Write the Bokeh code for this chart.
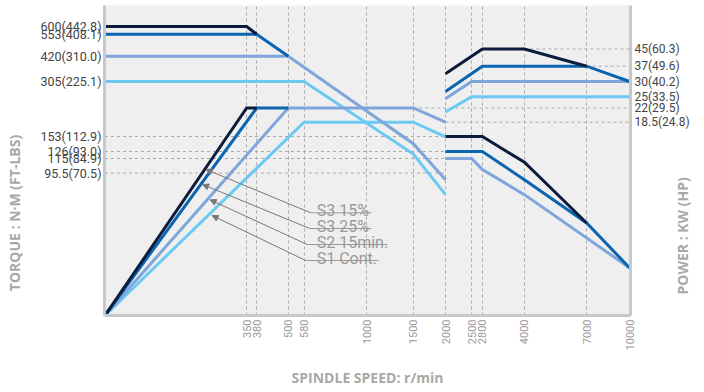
import numpy as np
from math import pi
from bokeh.plotting import figure
from bokeh.models import Range1d, LinearAxis, FixedTicker, Grid, Arrow, NormalHead
from bokeh.core.properties import value
from bokeh.embed import file_html
from bokeh.resources import INLINE

# ---------------- data ----------------
SERIES = ["S3 15%", "S3 25%", "S2 15min.", "S1 Cont."]
COLORS = ["#0c1c3c", "#0a64b0", "#7fa5da", "#6ccaf2"]

# low gear, 0-2000 r/min (torque N·m, power kW)
LOW_TQ_RPM = [[0, 350, 380], [0, 380, 500], [0, 500, 1500, 2000], [0, 580, 1500, 2000]]
LOW_TQ = [[600, 600, 553], [553, 553, 420], [420, 420, 140, 91], [305, 305, 122, 81]]
LOW_PW_RPM = [[0, 350, 380], [0, 380, 500], [0, 500, 1500, 2000], [0, 580, 1500, 2000]]
LOW_PW = [[0, 22, 22], [0, 22, 22], [0, 22, 22, 18.5], [0, 18.5, 18.5, 17.1]]

# high gear, 2000-10000 r/min
HIGH_TQ_RPM = [[2000, 2800, 4000, 7000], [2000, 2800, 4000, 7000, 10000],
               [2000, 2500, 2800, 4000, 10000]]
HIGH_TQ = [[153, 153, 110, 62], [126, 126, 91, 62, 32], [115, 115, 100, 81, 32]]
HIGH_PW_RPM = [[2000, 2800, 4000, 7000], [2000, 2800, 7000, 10000],
               [2000, 2500, 10000], [2000, 2500, 10000]]
HIGH_PW = [[33.5, 45, 45, 37], [26.7, 37, 37, 30], [24.5, 30, 30], [21, 25, 25]]

RPM_TICKS = [350, 380, 500, 580, 1000, 1500, 2000, 2500, 2800, 4000, 7000, 10000]
TORQUE_TICKS = [600, 553, 420, 305, 153, 126, 115, 95.5]
TORQUE_LABELS = ["600(442.8)", "553(408.1)", "420(310.0)", "305(225.1)",
                 "153(112.9)", "126(93.0)", "115(84.9)", "95.5(70.5)"]
POWER_TICKS = [45, 37, 30, 25, 22, 18.5]
POWER_LABELS = ["45(60.3)", "37(49.6)", "30(40.2)", "25(33.5)", "22(29.5)", "18.5(24.8)"]
TORQUE_GUIDES = [153, 126, 115, 95.5]          # dashed from 0 to 2000 r/min
POWER_GUIDES = [45, 37, 22, 18.5]               # dashed to 10000 r/min
POWER_GUIDE_FROM = [4000, 7000, 1500, 2000]

TORQUE_TITLE = "TORQUE : N·M (FT-LBS)"
POWER_TITLE = "POWER : KW (HP)"
SPEED_TITLE = "SPINDLE SPEED: r/min"

# ------------- layout of the (non-linear) chart scales -------------
X_KNOT_RPM = [0, 350, 380, 500, 580, 1000, 1500, 2000, 2500, 2800, 4000, 7000, 10000]
X_KNOT_PX = [104.5, 246.7, 256.7, 288.5, 304.3, 367.3, 414, 446.3, 472.5, 483.3, 525.5, 588, 631]
T_KNOT = [0, 95.5, 115, 126, 153, 305, 420, 553, 600]
T_KNOT_PX = [0, 142.5, 157, 164, 179, 234, 259.3, 281.3, 289]
P_KNOT = [0, 18.5, 22, 25, 30, 37, 45]
P_KNOT_PX = [0, 193.3, 207.5, 218.7, 234, 249.3, 266.5]


def X(r):
    return np.round(np.interp(r, X_KNOT_RPM, X_KNOT_PX), 2)


def TY(t):
    return np.round(np.interp(t, T_KNOT, T_KNOT_PX), 2)


def PY(v):
    return np.round(np.interp(v, P_KNOT, P_KNOT_PX), 2)


FONT = "Roboto"
TITLE_FONT = "Open Sans"
TITLE_COLOR = "#a8a8a8"
GRID = "#aaaaaa"
BASE = 315  # x-axis line, canvas y

p = figure(width=704, height=392, x_range=Range1d(104, 632), y_range=Range1d(0, 310),
           output_backend="svg", toolbar_location=None,
           x_axis_type=None, y_axis_type=None,
           min_border_left=104, min_border_right=72, min_border_top=5, min_border_bottom=77,
           background_fill_color="#efefef", border_fill_color="white")
p.outline_line_color = None


def style_axis(ax, size, color, standoff):
    ax.axis_line_color = "#c8c8c8"
    ax.axis_line_width = 3
    ax.major_tick_line_color = None
    ax.minor_tick_line_color = None
    ax.major_tick_in = 0
    ax.major_tick_out = 0
    ax.major_label_text_font = FONT
    ax.major_label_text_font_size = size
    ax.major_label_text_color = color
    ax.major_label_standoff = standoff
    ax.axis_label_text_font = TITLE_FONT
    ax.axis_label_text_font_style = "bold"
    ax.axis_label_text_font_size = "14px"
    ax.axis_label_text_color = TITLE_COLOR


xt = [float(v) for v in X(RPM_TICKS)]
xaxis = LinearAxis(ticker=FixedTicker(ticks=xt),
                   major_label_overrides={t: str(r) for t, r in zip(xt, RPM_TICKS)})
style_axis(xaxis, "11px", "#9a9a9a", 4)
xaxis.major_label_orientation = pi / 2
xaxis.axis_label = SPEED_TITLE
xaxis.axis_label_standoff = 15
p.add_layout(xaxis, "below")

tt = [float(v) for v in TY(TORQUE_TICKS)]
laxis = LinearAxis(ticker=FixedTicker(ticks=tt),
                   major_label_overrides={t: s for t, s in zip(tt, TORQUE_LABELS)})
style_axis(laxis, "12.5px", "#444444", 3)
# title sits below the frame centre: pad its (upper) end with em spaces
laxis.axis_label = TORQUE_TITLE + "\u2003" * 7 + "\u2002"
laxis.axis_label_standoff = 13
p.add_layout(laxis, "left")

pt = [float(v) for v in PY(POWER_TICKS)]
raxis = LinearAxis(ticker=FixedTicker(ticks=pt),
                   major_label_overrides={t: s for t, s in zip(pt, POWER_LABELS)})
style_axis(raxis, "12px", "#444444", 4)
raxis.axis_label_orientation = pi / 2      # reads bottom-to-top, anchored at its start
aligned = False
for a in ("start", "left"):
    try:
        raxis.axis_label_align = a
        aligned = True
        break
    except Exception:
        pass
if aligned:
    raxis.axis_label = "\u2003\u2002" + POWER_TITLE
else:
    raxis.axis_label = POWER_TITLE + "\u2003" * 10
raxis.axis_label_standoff = -10
p.add_layout(raxis, "right")

grid = Grid(dimension=0, ticker=FixedTicker(ticks=xt[:-1]),
            grid_line_color=GRID, grid_line_dash="3 3", grid_line_width=1)
p.add_layout(grid)

# horizontal dashed guides
tg = TY(TORQUE_GUIDES)
p.segment(x0=[float(X(0))] * len(tg), x1=[float(X(2000))] * len(tg), y0=tg, y1=tg,
          line_color=GRID, line_dash="3 3", line_width=1)
pg = PY(POWER_GUIDES)
p.segment(x0=X(POWER_GUIDE_FROM), x1=[float(X(10000))] * len(pg), y0=pg, y1=pg,
          line_color=GRID, line_dash="3 3", line_width=1)

# curves (light drawn first)
for i in reversed(range(4)):
    c = COLORS[i]
    p.line(X(LOW_TQ_RPM[i]), TY(LOW_TQ[i]), line_color=c, line_width=3, line_join="miter")
    p.line(X(LOW_PW_RPM[i]), PY(LOW_PW[i]), line_color=c, line_width=3, line_join="miter")
    if i < len(HIGH_TQ):
        p.line(X(HIGH_TQ_RPM[i]), TY(HIGH_TQ[i]), line_color=c, line_width=3, line_join="miter")
    p.line(X(HIGH_PW_RPM[i]), PY(HIGH_PW[i]), line_color=c, line_width=3, line_join="miter")

# series callouts (layout, canvas pixels -> chart space)
TXT_X = [317, 317, 317, 317]
TXT_Y = [BASE - v for v in [210, 226, 242, 258]]
UL_X0 = [311, 310, 307.5, 306]
UL_X1 = [372, 372, 388, 379]
UL_Y = [BASE - v for v in [212.3, 228, 244, 260]]
TIP_X = [206, 202.5, 210, 212]
TIP_Y = [BASE - v for v in [169, 184, 199.3, 215]]

p.text(x=TXT_X, y=TXT_Y, text=SERIES, text_font=value(FONT), text_font_size="16px",
       text_color="#9a9a9a", text_baseline="alphabetic", text_align="left")
p.segment(x0=UL_X0, x1=UL_X1, y0=UL_Y, y1=UL_Y, line_color="#9a9a9a", line_width=1)
for i in range(4):
    p.add_layout(Arrow(x_start=UL_X0[i], y_start=UL_Y[i], x_end=TIP_X[i], y_end=TIP_Y[i],
                       line_color="#777777", line_width=1,
                       end=NormalHead(size=6, fill_color="#777777", line_color="#777777")))

open("out.html", "w").write(file_html(p, INLINE))
